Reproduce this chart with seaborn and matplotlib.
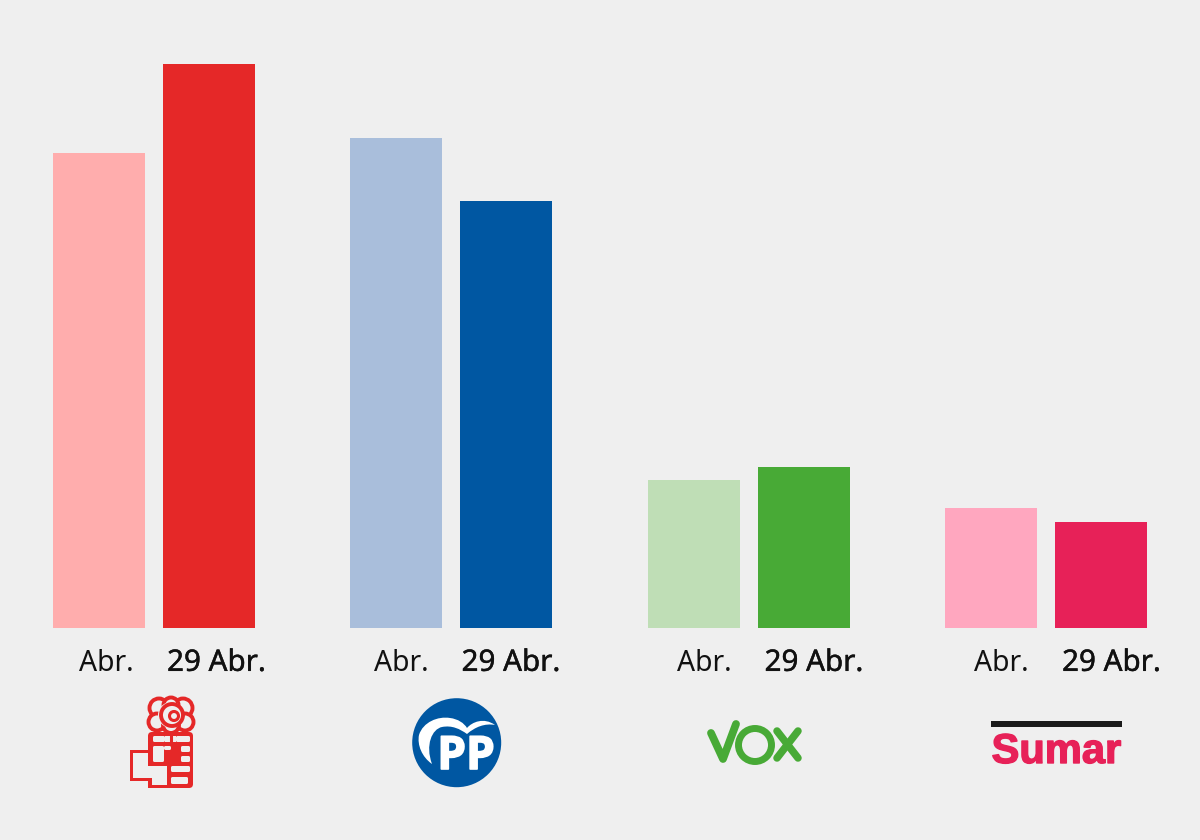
import pandas as pd
import seaborn as sns
import matplotlib.pyplot as plt
import matplotlib.patheffects as pe
from matplotlib.patches import Circle, FancyBboxPatch, PathPatch, Polygon, Rectangle
from matplotlib.path import Path
from matplotlib.transforms import ScaledTranslation

# Values (no axis in the original, so the scale is relative)
parties = ['PSOE', 'PP', 'VOX', 'Sumar']
periods = ['Abr.', '29 Abr.']
psoe_values = [29.7, 35.25]
pp_values = [30.6, 26.7]
vox_values = [9.25, 10.05]
sumar_values = [7.5, 6.65]
psoe_colors = ['#ffadad', '#e52828']
pp_colors = ['#a9bedb', '#0057a2']
vox_colors = ['#bfdeb6', '#48aa36']
sumar_colors = ['#ffa7bf', '#e72158']

BG = '#efefef'
W, H = 1200, 840

sns.set_theme(style='white')
plt.rcParams['font.family'] = ['Noto Sans', 'DejaVu Sans']

fig = plt.figure(figsize=(12, 8.4), dpi=100, facecolor=BG)


def draw_party(left, values, colors, label_shift):
    """One small bar chart for a party, 220 px wide with the baseline at y=628"""
    ax = fig.add_axes([left / W, (H - 628) / H, 220 / W, 628 / H])
    df = pd.DataFrame({'period': periods, 'value': values})
    sns.barplot(data=df, x='period', y='value', hue='period', order=periods,
                palette=colors, width=92 / 110, legend=False, saturation=1,
                linewidth=0, ax=ax)
    ax.set_ylim(0, 39.25)
    ax.set_xlim(-0.5, 1.5)
    ax.set_facecolor('none')
    ax.set_xlabel('')
    ax.set_ylabel('')
    ax.set_yticks([])
    sns.despine(ax=ax, left=True, bottom=True)
    ax.tick_params(axis='x', length=0, pad=15)
    offset = ScaledTranslation(label_shift / 100, 0, fig.dpi_scale_trans)
    labels = ax.get_xticklabels()
    labels[0].set_fontsize(20.4)
    labels[1].set_fontsize(21.3)
    # second label is a medium weight in the original, a thin stroke gets close
    labels[1].set_path_effects([pe.withStroke(linewidth=0.3, foreground='#111111')])
    for label in labels:
        label.set_color('#111111')
        label.set_transform(label.get_transform() + offset)
    return ax


draw_party(44, psoe_values, psoe_colors, 7.5)
draw_party(341, pp_values, pp_colors, 5)
draw_party(638.5, vox_values, vox_colors, 10.5)
draw_party(936, sumar_values, sumar_colors, 10.5)

# Overlay in pixel coordinates for the party logos
logo = fig.add_axes([0, 0, 1, 1])
logo.set_xlim(0, W)
logo.set_ylim(H, 0)
logo.axis('off')
logo.patch.set_alpha(0)

# PSOE: fist as a red block with the gaps cut out, rose on top
red = '#e52828'
logo.add_patch(FancyBboxPatch((148, 732), 45, 56, boxstyle='round,pad=0,rounding_size=4',
                              facecolor=red, edgecolor='none'))
logo.add_patch(Rectangle((130, 750), 20, 31, facecolor=red, edgecolor='none'))
logo.add_patch(Polygon([(133, 753), (148, 753), (148, 766), (167, 766), (167, 785),
                        (152, 785), (152, 778), (133, 778)], closed=True,
                       facecolor=BG, edgecolor='none'))
logo.add_patch(Rectangle((148, 781), 4, 7, facecolor=red, edgecolor='none'))
for x, y, w, h in [(153, 736, 12, 6), (176, 736, 14, 6), (153, 746, 11, 16), (164, 746, 7, 4),
                   (181, 746, 9, 6), (181, 756, 9, 6), (171, 766, 19, 6), (171, 777, 17, 7)]:
    logo.add_patch(FancyBboxPatch((x, y), w, h, boxstyle='round,pad=0,rounding_size=1.5',
                                  facecolor=BG, edgecolor='none'))
logo.add_patch(Rectangle((165, 736), 11, 6, facecolor=BG, edgecolor='none'))
logo.plot([171, 171], [732, 742], color=red, lw=2.2)
for x, y, r in [(159, 708, 9.5), (183, 708, 9.5), (171, 705, 7.5), (157, 722, 8.5), (185, 722, 8.5),
                (171, 725, 8)]:
    logo.add_patch(Circle((x, y), r, facecolor=BG, edgecolor=red, lw=2.8))
logo.add_patch(Circle((171, 715), 13, facecolor=BG, edgecolor='none'))
logo.add_patch(Circle((172, 715), 11, fill=False, edgecolor=red, lw=2.8))
logo.add_patch(Circle((174, 716), 4.5, fill=False, edgecolor=red, lw=2.2))

# PP: circle, swoosh and letters
logo.add_patch(Circle((456.7, 742.7), 44.5, facecolor='#0057a2', edgecolor='none'))
swoosh = [(Path.MOVETO, (432, 764)),
          (Path.CURVE4, (422, 757)), (Path.CURVE4, (417, 745)), (Path.CURVE4, (419, 735)),
          (Path.CURVE4, (423, 722)), (Path.CURVE4, (438, 716)), (Path.CURVE4, (450, 718)),
          (Path.CURVE4, (458, 719)), (Path.CURVE4, (464, 723)), (Path.CURVE4, (467, 728)),
          (Path.CURVE4, (472, 722)), (Path.CURVE4, (484, 717)), (Path.CURVE4, (495, 725)),
          (Path.CURVE4, (485, 723)), (Path.CURVE4, (475, 727)), (Path.CURVE4, (467, 734)),
          (Path.CURVE4, (460, 729)), (Path.CURVE4, (452, 725)), (Path.CURVE4, (442, 727)),
          (Path.CURVE4, (432, 729)), (Path.CURVE4, (425, 745)), (Path.CURVE4, (432, 764)),
          (Path.CLOSEPOLY, (432, 764))]
codes, verts = zip(*swoosh)
logo.add_patch(PathPatch(Path(verts, codes), facecolor='white', edgecolor='none'))
logo.text(466, 769, 'PP', color='white', fontsize=33, fontweight='bold', ha='center',
          va='baseline', family='Open Sans',
          path_effects=[pe.withStroke(linewidth=1.2, foreground='white')])

# VOX: drawn strokes
green = '#48aa36'
logo.plot([711, 723, 736], [733, 759, 724], color=green, lw=5.6, solid_capstyle='round',
          solid_joinstyle='round')
logo.add_patch(Circle((755, 745), 16.5, fill=False, edgecolor=green, lw=5))
logo.plot([777, 798], [731, 758], color=green, lw=5.4, solid_capstyle='round')
logo.plot([798, 777], [731, 758], color=green, lw=5.4, solid_capstyle='round')

# Sumar: black rule and wordmark
logo.add_patch(Rectangle((991, 721), 131, 6, facecolor='#1a1a1a', edgecolor='none'))
logo.text(1056.5, 763, 'Sumar', color='#e72158', fontsize=30, fontweight='bold', ha='center',
          va='baseline', family='Liberation Sans',
          path_effects=[pe.withStroke(linewidth=1, foreground='#e72158')])

fig.savefig('out.png', dpi=100, facecolor=BG)
